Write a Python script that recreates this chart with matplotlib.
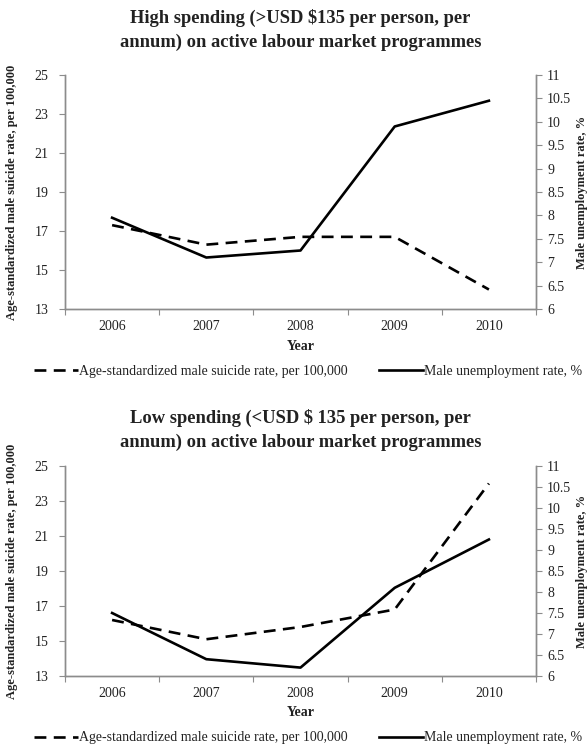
import matplotlib
matplotlib.use("Agg")
import matplotlib.pyplot as plt
from matplotlib.lines import Line2D

years = ["2006", "2007", "2008", "2009", "2010"]
suicide_high = [17.3, 16.3, 16.7, 16.7, 14.0]
unemp_high = [7.95, 7.1, 7.25, 9.9, 10.45]
suicide_low = [16.2, 15.1, 15.8, 16.8, 24.0]
unemp_low = [7.5, 6.4, 6.2, 8.1, 9.25]

left_ticks = [13, 15, 17, 19, 21, 23, 25]
right_ticks = [6, 6.5, 7, 7.5, 8, 8.5, 9, 9.5, 10, 10.5, 11]
right_ticklabels = ["6", "6.5", "7", "7.5", "8", "8.5", "9", "9.5", "10", "10.5", "11"]

title_high = "High spending (>USD \\$135 per person, per\nannum) on active labour market programmes"
title_low = "Low spending (<USD \\$ 135 per person, per\nannum) on active labour market programmes"
label_suicide = "Age-standardized male suicide rate, per 100,000"
label_unemp = "Male unemployment rate, %"

plt.rcParams['font.family'] = ['Liberation Serif', 'DejaVu Serif']

W, H = 588, 746
fig = plt.figure(figsize=(W / 100, H / 100), dpi=100)

SPINE = '#8c8c8c'
TXT = '#222222'


def px(x0, y_top, x1, y_bot):
    return [x0 / W, 1 - y_bot / H, (x1 - x0) / W, (y_bot - y_top) / H]


def panel(rect, suicide, unemp, title, title_y, year_y, legend_y):
    ax = fig.add_axes(rect)
    x = list(range(len(years)))
    ax.plot(x, suicide, color='black', lw=1.9, ls=(0, (4.5, 2.8)))
    ax.set_xlim(-0.5, len(years) - 0.5)
    ax.set_ylim(13, 25)
    ax.set_yticks(left_ticks)
    ax.set_yticklabels([str(t) for t in left_ticks])
    ax.set_xticks([i - 0.5 for i in range(len(years) + 1)])
    ax.set_xticklabels([])
    ax.set_xticks(x, minor=True)
    ax.set_xticklabels(years, minor=True)
    ax.tick_params(axis='x', which='minor', length=0, pad=8, labelsize=10, labelcolor=TXT)
    ax.tick_params(axis='x', which='major', length=4, color=SPINE, direction='out')
    ax.tick_params(axis='y', length=4, color=SPINE, labelsize=10, labelcolor=TXT, pad=8)
    ax.spines['top'].set_visible(False)
    for s in ['left', 'bottom', 'right']:
        ax.spines[s].set_color(SPINE)
        ax.spines[s].set_linewidth(1.0)

    ax2 = ax.twinx()
    ax2.plot(x, unemp, color='black', lw=1.9)
    ax2.set_ylim(6, 11)
    ax2.set_yticks(right_ticks)
    ax2.set_yticklabels(right_ticklabels)
    ax2.tick_params(axis='y', length=4, color=SPINE, labelsize=10, labelcolor=TXT, pad=4)
    ax2.spines['top'].set_visible(False)
    for s in ['left', 'bottom', 'right']:
        ax2.spines[s].set_color(SPINE)
        ax2.spines[s].set_linewidth(1.0)

    cx = rect[0] + rect[2] / 2
    cy = rect[1] + rect[3] / 2
    fig.text(cx, title_y, title, ha='center', va='center', fontsize=13.3,
             fontweight='bold', color=TXT, linespacing=1.45)
    fig.text(cx, year_y, "Year", ha='center', va='center', fontsize=10,
             fontweight='bold', color=TXT)
    fig.text(12 / W, cy, label_suicide, rotation=90, ha='center', va='center',
             fontsize=9, fontweight='bold', color=TXT)
    fig.text(582 / W, cy, label_unemp, rotation=90, ha='center', va='center',
             fontsize=9, fontweight='bold', color=TXT)

    handles = [Line2D([], [], color='black', lw=1.9, ls=(0, (4.5, 2.8))),
               Line2D([], [], color='black', lw=1.9)]
    fig.legend(handles, [label_suicide, label_unemp], loc='center',
               bbox_to_anchor=(308 / W, legend_y), ncol=2, frameon=False,
               fontsize=10, handlelength=3.2, handletextpad=0.1,
               columnspacing=2.2, labelcolor=TXT)
    return ax


panel(px(65, 75, 536, 309), suicide_high, unemp_high, title_high,
      1 - 30 / H, 1 - 346 / H, 1 - 371 / H)
panel(px(65, 466, 536, 676), suicide_low, unemp_low, title_low,
      1 - 430 / H, 1 - 713 / H, 1 - 738 / H)

fig.savefig("out.png", dpi=100)
